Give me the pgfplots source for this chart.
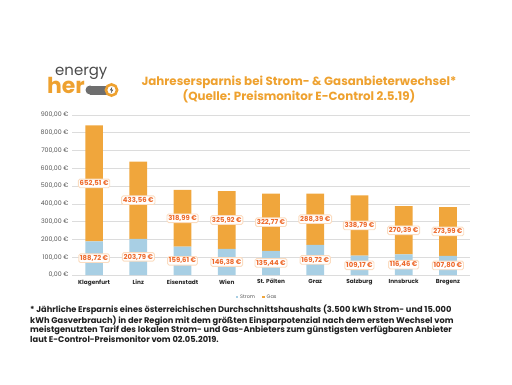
\documentclass[border=0pt]{standalone}
\usepackage{pgfplots}
\pgfplotsset{compat=1.18}
\usepackage{pgfplotstable}
\usepackage{fontspec}
\setmainfont{Poppins}
\definecolor{gasc}{HTML}{F0A63C}
\definecolor{stromc}{HTML}{A8CFE4}
\definecolor{titlec}{HTML}{EEA12F}
\definecolor{lblc}{HTML}{EE6A2C}
\definecolor{lblbd}{HTML}{FBDCC0}
\definecolor{gridc}{HTML}{DCDCDC}
\definecolor{tickc}{HTML}{555555}
\definecolor{logog}{HTML}{4A4A4A}
\pgfplotstableread{
x strom gas
0 188.72 652.51
1 203.79 433.56
2 159.61 318.99
3 146.38 325.92
4 135.44 322.77
5 169.72 288.39
6 109.17 338.79
7 116.46 270.39
8 107.80 273.99
}\datatable
\begin{document}
\begin{tikzpicture}[x=1bp,y=1bp]
\path[use as bounding box] (0,0) rectangle (512,384);
% logo
\node[anchor=base west, inner sep=0, text=logog, font=\fontsize{15}{15}\selectfont] at (55,308.5) {energy};
\node[anchor=base west, inner sep=0, text=titlec, font=\bfseries\fontsize{22}{22}\selectfont] at (47,290.5) {her};
\fill[logog!80] (90,289.5) rectangle (110,298.5);
\fill[logog!80] (90,294) circle (4.5);
\draw[titlec, line width=2.6bp, fill=white] (111.5,294) circle (5.6);
\fill[logog] (112.3,297.5) -- (109.8,293.6) -- (111.6,293.6) -- (110.8,290.5) -- (113.3,294.4) -- (111.5,294.4) -- cycle;
% title
\node[align=center, text=titlec, font=\bfseries\fontsize{11.9}{15}\selectfont] at (299,294.5)
  {Jahresersparnis bei Strom- \& Gasanbieterwechsel*\\(Quelle: Preismonitor E-Control 2.5.19)};
% footnote
\node[anchor=north west, inner sep=0, align=left, text=black!88, font=\bfseries\fontsize{8.3}{8.8}\selectfont] at (30,79.5)
  {* Jährliche Ersparnis eines österreichischen Durchschnittshaushalts (3.500 kWh Strom- und 15.000\\
   kWh Gasverbrauch) in der Region mit dem größten Einsparpotenzial nach dem ersten Wechsel vom\\
   meistgenutzten Tarif des lokalen Strom- und Gas-Anbieters zum günstigsten verfügbaren Anbieter\\
   laut E-Control-Preismonitor vom 02.05.2019.};
\begin{axis}[
  at={(72bp,109bp)}, anchor=south west, scale only axis,
  width=398bp, height=160bp,
  ybar stacked, bar width=17.7bp,
  ymin=0, ymax=900, xmin=-0.5, xmax=8.5,
  xtick={0,...,8},
  xticklabels={Klagenfurt,Linz,Eisenstadt,Wien,St. Pölten,Graz,Salzburg,Innsbruck,Bregenz},
  ytick={0,100,...,900},
  ymajorgrids, grid style={gridc, line width=0.6bp},
  axis line style={draw=none}, major tick length=0,
  /pgf/number format/assume math mode=true,
  yticklabel={\pgfmathprintnumber[fixed,fixed zerofill,precision=2,use comma,1000 sep={}]{\tick}~€},
  yticklabel style={font=\fontsize{6.3}{7}\selectfont, text=tickc},
  xticklabel style={font=\bfseries\fontsize{5.8}{6}\selectfont, text=black!85, yshift=-1bp},
  legend style={draw=none, fill=none, at={(0.465,-0.1375)}, anchor=center, legend columns=2,
    font=\fontsize{5}{6}\selectfont, text=tickc,
    /tikz/every even column/.append style={column sep=5bp}},
  legend image code/.code={\fill[#1] (0bp,-1.3bp) rectangle (2.6bp,1.3bp);},
  clip=false,
  point meta=explicit,
  nodes near coords={\pgfmathprintnumber[fixed,fixed zerofill,precision=2,use comma,1000 sep={}]{\pgfplotspointmeta}~€},
  nodes near coords style={anchor=center, fill=white, draw=lblbd, line width=0.9bp, rounded corners=1.5bp,
    inner sep=1.3bp, text=lblc, font=\bfseries\fontsize{6.9}{7}\selectfont},
]
\addplot[fill=stromc, draw=none] table[x=x, y=strom, meta=strom]{\datatable};
\addlegendentry{Strom}
\addplot[fill=gasc, draw=none] table[x=x, y=gas, meta=gas]{\datatable};
\addlegendentry{Gas}
\end{axis}
\end{tikzpicture}
\end{document}
